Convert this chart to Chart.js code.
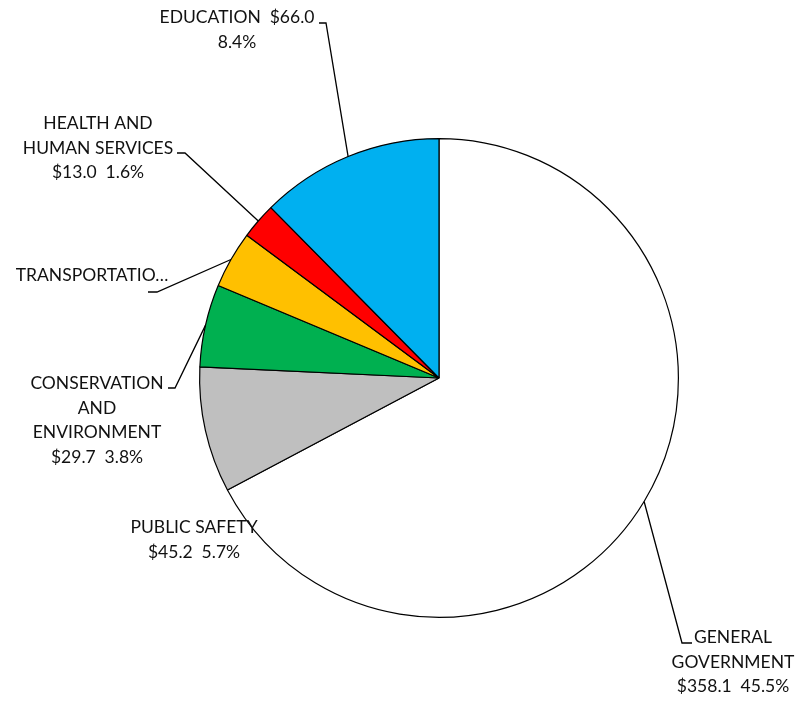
<!DOCTYPE html>
<html>
<head>
<meta charset="utf-8">
<script src="https://cdn.jsdelivr.net/npm/chart.js@4/dist/chart.umd.min.js"></script>
<style>
  html, body { margin: 0; padding: 0; background: #ffffff; }
  #wrap { width: 805px; height: 702px; }
</style>
</head>
<body>
<div id="wrap"><canvas id="c" width="805" height="702"></canvas></div>
<script>
// ---- data ----
const categories = ['GENERAL GOVERNMENT', 'PUBLIC SAFETY', 'CONSERVATION AND ENVIRONMENT', 'TRANSPORTATION', 'HEALTH AND HUMAN SERVICES', 'EDUCATION'];
const values = [358.1, 45.2, 29.7, 20.5, 13.0, 66.0];
const percentLabels = ['45.5%', '5.7%', '3.8%', '', '1.6%', '8.4%'];
const sliceColors = ['#FFFFFF', '#BFBFBF', '#00B050', '#FFC000', '#FF0000', '#00B0F0'];

const money = v => '$' + v.toFixed(1);

// ---- label layout (positions only) ----
const labelLayout = [
  { lines: i => ['GENERAL', 'GOVERNMENT', money(values[i]) + '  ' + percentLabels[i]], x: 733, y: 643, elbow: [682, 643], end: 692 },
  { lines: i => ['PUBLIC SAFETY', money(values[i]) + '  ' + percentLabels[i]], x: 194, y: 533 },
  { lines: i => ['CONSERVATION', 'AND', 'ENVIRONMENT', money(values[i]) + '  ' + percentLabels[i]], x: 97, y: 389, elbow: [175, 388], end: 168 },
  { lines: i => ['TRANSPORTATIO\u2026'], x: 92, y: 281, elbow: [157, 292], end: 148 },
  { lines: i => ['HEALTH AND', 'HUMAN SERVICES', money(values[i]) + '  ' + percentLabels[i]], x: 98, y: 129, elbow: [185, 153], end: 177 },
  { lines: i => ['EDUCATION  ' + money(values[i]), percentLabels[i]], x: 237, y: 23, elbow: [326, 23], end: 319 }
];
const FONT = '17.5px Lato, "Open Sans", sans-serif';
const LINE_H = 24.5;

const labelPlugin = {
  id: 'sliceLabels',
  afterDatasetsDraw(chart) {
    const ctx = chart.ctx;
    const meta = chart.getDatasetMeta(0);
    ctx.save();
    meta.data.forEach((arc, i) => {
      const p = arc.getProps(['x', 'y', 'startAngle', 'endAngle', 'outerRadius'], true);
      const mid = (p.startAngle + p.endAngle) / 2;
      const ax = p.x + Math.cos(mid) * p.outerRadius;
      const ay = p.y + Math.sin(mid) * p.outerRadius;
      const L = labelLayout[i];
      if (L.elbow) {
        ctx.beginPath();
        ctx.strokeStyle = '#000000';
        ctx.lineWidth = 1.3;
        ctx.moveTo(ax, ay);
        ctx.lineTo(L.elbow[0], L.elbow[1]);
        ctx.lineTo(L.end, L.elbow[1]);
        ctx.stroke();
      }
      ctx.fillStyle = '#111111';
      ctx.font = FONT;
      ctx.textAlign = 'center';
      ctx.textBaseline = 'alphabetic';
      L.lines(i).forEach((t, k) => {
        ctx.fillText(t, L.x, L.y + k * LINE_H);
      });
    });
    ctx.restore();
  }
};

new Chart(document.getElementById('c'), {
  type: 'pie',
  data: {
    labels: categories,
    datasets: [{
      data: values,
      backgroundColor: sliceColors,
      borderColor: '#000000',
      borderWidth: 1.2,
      hoverOffset: 0,
      offset: 0
    }]
  },
  options: {
    responsive: false,
    devicePixelRatio: 1,
    animation: false,
    events: [],
    layout: { padding: { left: 199, right: 126, top: 138, bottom: 84 } },
    plugins: {
      legend: { display: false },
      tooltip: { enabled: false },
      title: { display: false }
    }
  },
  plugins: [labelPlugin]
});
</script>
</body>
</html>
